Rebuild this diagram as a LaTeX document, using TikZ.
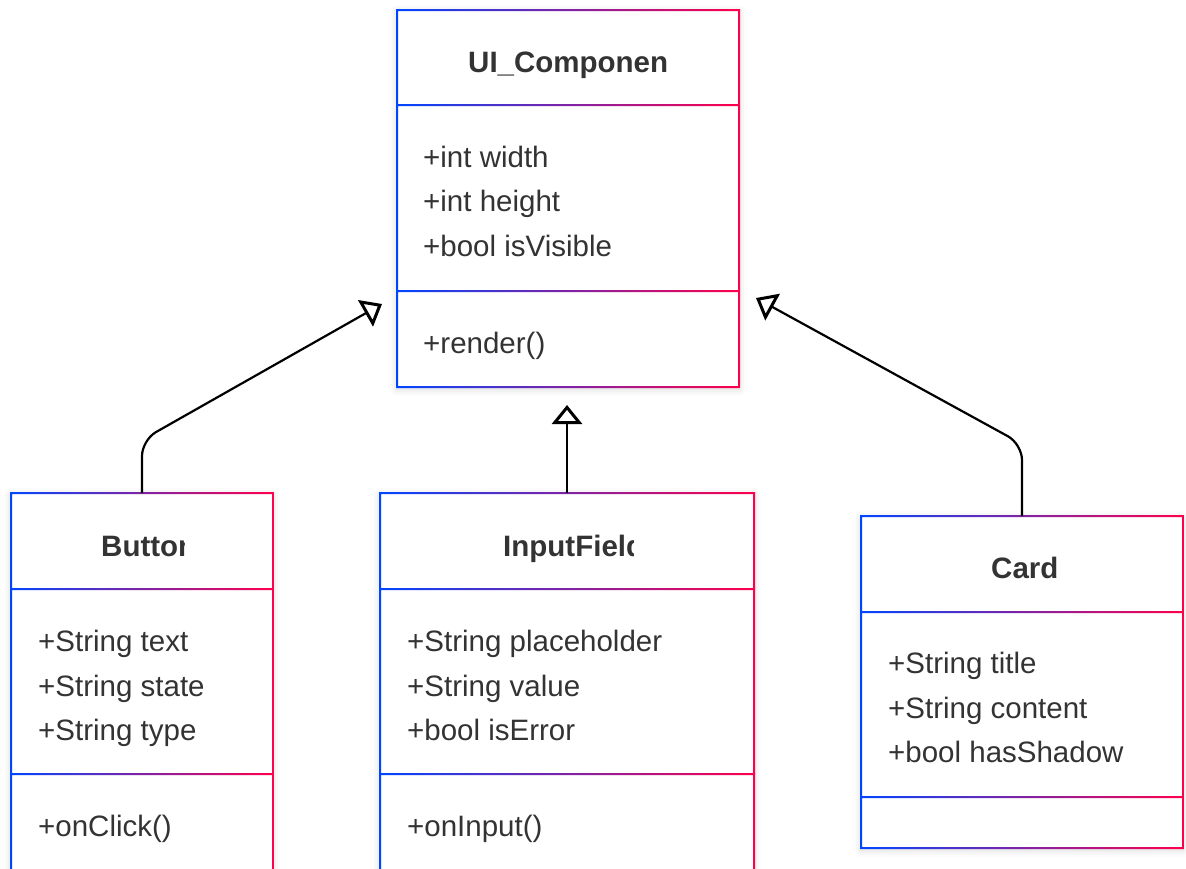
\documentclass[tikz,border=0pt]{standalone}
\usepackage{fontspec}
\setmainfont{Liberation Sans}
\usetikzlibrary{arrows.meta, shadows.blur}

\definecolor{ink}{HTML}{333333}
\definecolor{gradL}{RGB}{0,70,255}
\definecolor{gradR}{RGB}{255,0,75}

\tikzset{
  holder/.style={inner sep=0pt, outer sep=0pt, anchor=north west},
  member/.style={inner sep=0pt, anchor=base west, text=ink,
                 font=\fontsize{29.5}{35}\selectfont},
  classname/.style={member, font=\bfseries\fontsize{29.5}{35}\selectfont},
  framegrad/.style={left color=gradL, right color=gradR},
  boxshadow/.style={blur shadow={shadow xshift=0pt, shadow yshift=-2pt,
                    shadow blur radius=7pt, shadow opacity=16}},
  genarrow/.style={draw=black, line width=2.2pt, rounded corners=16pt,
                   -{Triangle[open, length=19pt, width=30pt, line width=3pt, sharp]}},
}

% white class body with its shadow, then the gradient outline and dividers
% #1 left, #2 right, #3 top, #4 first divider, #5 second divider, #6 bottom
\newcommand{\classframe}[6]{%
  \fill[white, boxshadow] (#1,#3) rectangle (#2,#6);
  \shade[framegrad, even odd rule]
    (#1-1,#3-1) rectangle (#2+1,#6+1)
    (#1+1,#3+1) rectangle (#2-1,#4-1)
    (#1+1,#4+1) rectangle (#2-1,#5-1)
    (#1+1,#5+1) rectangle (#2-1,#6-1);
}

\begin{document}
\begin{tikzpicture}[x=1pt, y=-1pt]
  \useasboundingbox (0,0) rectangle (1186,868);
  \clip (0,0) rectangle (1186,868);

  % class boxes
  \node[holder, minimum width=342pt, minimum height=377pt] (ui) at (397,10) {};
  \node[holder, minimum width=262pt, minimum height=377pt] (button) at (11,493) {};
  \node[holder, minimum width=374pt, minimum height=377pt] (input) at (380,493) {};
  \node[holder, minimum width=322pt, minimum height=332pt] (card) at (861,516) {};

  \classframe{397}{739}{10}{105}{291}{387}
  \classframe{11}{273}{493}{589}{774}{870}
  \classframe{380}{754}{493}{589}{774}{870}
  \classframe{861}{1183}{516}{612}{797}{848}

  % class names, clipped to their header width
  \begin{scope}
    \clip (468,20) rectangle (667,100);
    \node[classname] (ui-name) at (468,72) {UI\_Component};
  \end{scope}
  \begin{scope}
    \clip (101,500) rectangle (184,585);
    \node[classname] (button-name) at (101,556) {Button};
  \end{scope}
  \begin{scope}
    \clip (503,500) rectangle (633,585);
    \node[classname] (input-name) at (503,556) {InputField};
  \end{scope}
  \begin{scope}
    \clip (991,523) rectangle (1056,608);
    \node[classname] (card-name) at (991,578) {Card};
  \end{scope}

  % UI_Component members
  \node[member] (ui-a1) at (423,167) {+int width};
  \node[member] (ui-a2) at (423,211) {+int height};
  \node[member] (ui-a3) at (423,256) {+bool isVisible};
  \node[member] (ui-m1) at (423,353) {+render()};

  % Button members
  \node[member] (button-a1) at (38,651) {+String text};
  \node[member] (button-a2) at (38,696) {+String state};
  \node[member] (button-a3) at (38,740) {+String type};
  \node[member] (button-m1) at (38,836) {+onClick()};

  % InputField members
  \node[member] (input-a1) at (407,651) {+String placeholder};
  \node[member] (input-a2) at (407,696) {+String value};
  \node[member] (input-a3) at (407,740) {+bool isError};
  \node[member] (input-m1) at (407,836) {+onInput()};

  % Card members
  \node[member] (card-a1) at (888,673) {+String title};
  \node[member] (card-a2) at (888,718) {+String content};
  \node[member] (card-a3) at (888,762) {+bool hasShadow};

  % generalisation arrows
  \coordinate (tipL) at (382,304);
  \coordinate (bendL) at (142,440);
  \coordinate (tipM) at (567,405);
  \coordinate (tipR) at (756,298);
  \coordinate (bendR) at (1022,444);

  \draw[genarrow] (button.north) -- (bendL) -- (tipL);
  \draw[genarrow] (input.north) -- (tipM);
  \draw[genarrow] (card.north) -- (bendR) -- (tipR);
\end{tikzpicture}
\end{document}
